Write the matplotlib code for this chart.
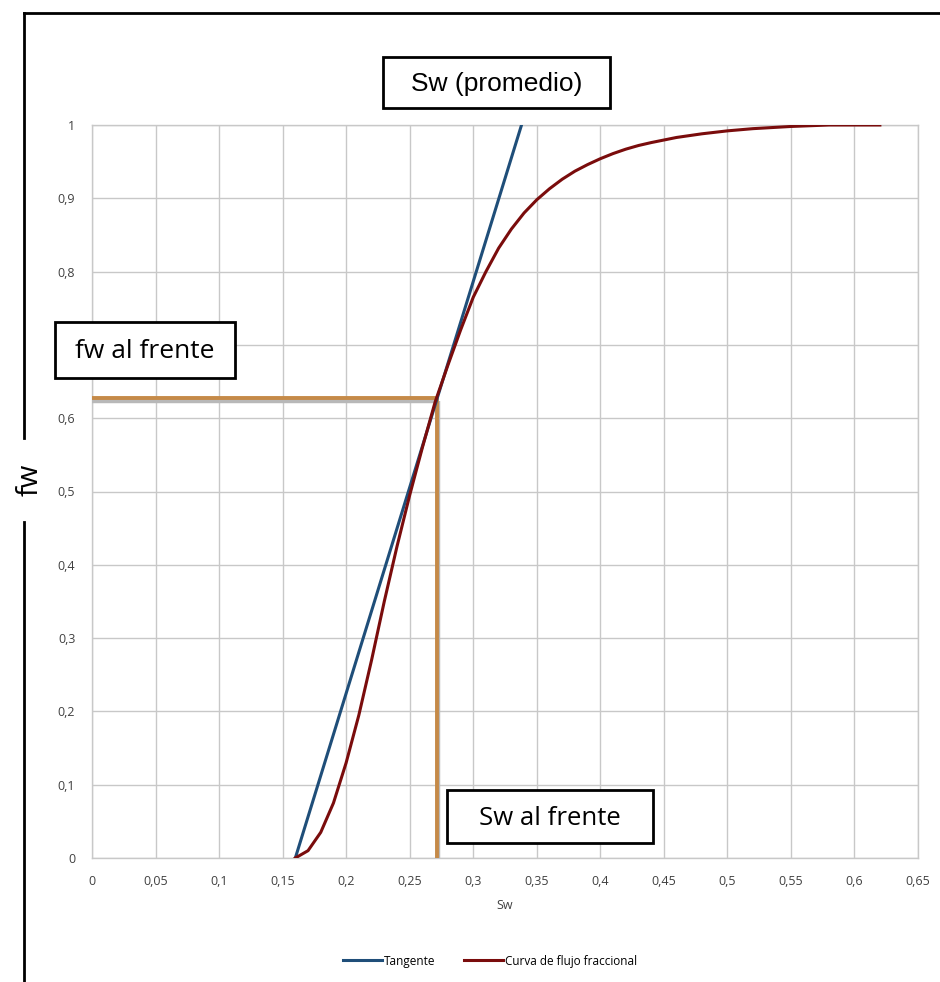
import matplotlib.pyplot as plt
from matplotlib.ticker import FuncFormatter
from matplotlib.lines import Line2D

# data
sw_curve = [0.16, 0.17, 0.18, 0.19, 0.20, 0.21, 0.22, 0.23, 0.24, 0.25, 0.26, 0.27,
            0.28, 0.29, 0.30, 0.31, 0.32, 0.33, 0.34, 0.35, 0.36, 0.37, 0.38, 0.39,
            0.40, 0.41, 0.42, 0.43, 0.44, 0.46, 0.48, 0.50, 0.52, 0.55, 0.58, 0.62]
fw_curve = [0.0, 0.01, 0.035, 0.075, 0.13, 0.195, 0.27, 0.35, 0.425, 0.495, 0.56, 0.622,
            0.672, 0.72, 0.765, 0.80, 0.832, 0.858, 0.88, 0.898, 0.913, 0.926, 0.937, 0.946,
            0.954, 0.961, 0.967, 0.972, 0.976, 0.983, 0.988, 0.992, 0.995, 0.998, 1.0, 1.0]
tangent_sw = [0.16, 0.338]
tangent_fw = [0.0, 1.0]
sw_front = 0.2715
fw_front = 0.628

x_ticks = [i * 0.05 for i in range(14)]
y_ticks = [i * 0.1 for i in range(11)]

fig = plt.figure(figsize=(9.4, 9.82), dpi=100)
fig.patch.set_facecolor('white')
ax = fig.add_axes([92 / 940, 124 / 982, 826 / 940, 733 / 982])

ax.plot(tangent_sw, tangent_fw, color='#1f4e79', lw=2.2, zorder=4)
ax.plot(sw_curve, fw_curve, color='#7a0c0c', lw=2.2, zorder=4)

# orange marker lines with a faint grey shadow
for dx, dy, c, w in [(0.0008, -0.004, '#b8b8b8', 3.2), (0, 0, '#c58a48', 2.8)]:
    ax.plot([0, sw_front + dx], [fw_front + dy, fw_front + dy], color=c, lw=w, zorder=3,
            solid_capstyle='butt')
    ax.plot([sw_front + dx, sw_front + dx], [fw_front + dy, 0], color=c, lw=w, zorder=3,
            solid_capstyle='butt')

ax.set_xlim(0, 0.65)
ax.set_ylim(0, 1)
ax.set_xticks(x_ticks)
ax.set_yticks(y_ticks)
fmt = FuncFormatter(lambda v, p: ('%g' % round(v, 2)).replace('.', ','))
ax.xaxis.set_major_formatter(fmt)
ax.yaxis.set_major_formatter(fmt)
ax.tick_params(length=0, labelsize=9, labelcolor='#404040', pad=12)
for lab in ax.get_xticklabels() + ax.get_yticklabels():
    lab.set_family('Open Sans')
ax.grid(True, color='#c8c8c8', lw=1)
ax.set_axisbelow(True)
for s in ax.spines.values():
    s.set_color('#c8c8c8')
    s.set_linewidth(1)

ax.set_xlabel('Sw', fontsize=9, color='#404040', family='Open Sans', labelpad=8)

# legend below
handles = [Line2D([], [], color='#1f4e79', lw=2.2), Line2D([], [], color='#7a0c0c', lw=2.2)]
fig.legend(handles, ['Tangente', 'Curva de flujo fraccional'], loc='center',
           bbox_to_anchor=(490 / 940, 1 - 961 / 982), ncol=2, frameon=False,
           prop={'family': 'Open Sans', 'size': 8.5}, handlelength=3.3, handletextpad=0.1,
           columnspacing=2.5)

# annotation boxes
def box(x0, y0, x1, y1, text, family, size):
    r = plt.Rectangle((x0 / 940, 1 - y1 / 982), (x1 - x0) / 940, (y1 - y0) / 982,
                      transform=fig.transFigure, fill=True, facecolor='white',
                      edgecolor='black', lw=2, zorder=10)
    fig.add_artist(r)
    fig.text((x0 + x1) / 2 / 940, 1 - (y0 + y1 + 4) / 2 / 982, text, ha='center',
             va='center', fontsize=size, family=family, zorder=11)

box(383, 57, 610, 108, 'Sw (promedio)', 'Liberation Sans', 19)
box(55, 322, 235, 378, 'fw al frente', 'Open Sans', 19)
box(447, 790, 653, 843, 'Sw al frente', 'Open Sans', 18.5)

# outer frame lines (top and broken left side)
fig.add_artist(Line2D([24 / 940, 1], [1 - 13 / 982, 1 - 13 / 982], color='black', lw=2))
fig.add_artist(Line2D([24 / 940, 24 / 940], [1 - 13 / 982, 1 - 438 / 982], color='black', lw=2))
fig.add_artist(Line2D([24 / 940, 24 / 940], [1 - 522 / 982, 0], color='black', lw=2))
fig.text(30 / 940, 1 - 480 / 982, 'fw', rotation=90, ha='center', va='center',
         fontsize=21, family='Open Sans')

fig.savefig('out.png', dpi=100)
